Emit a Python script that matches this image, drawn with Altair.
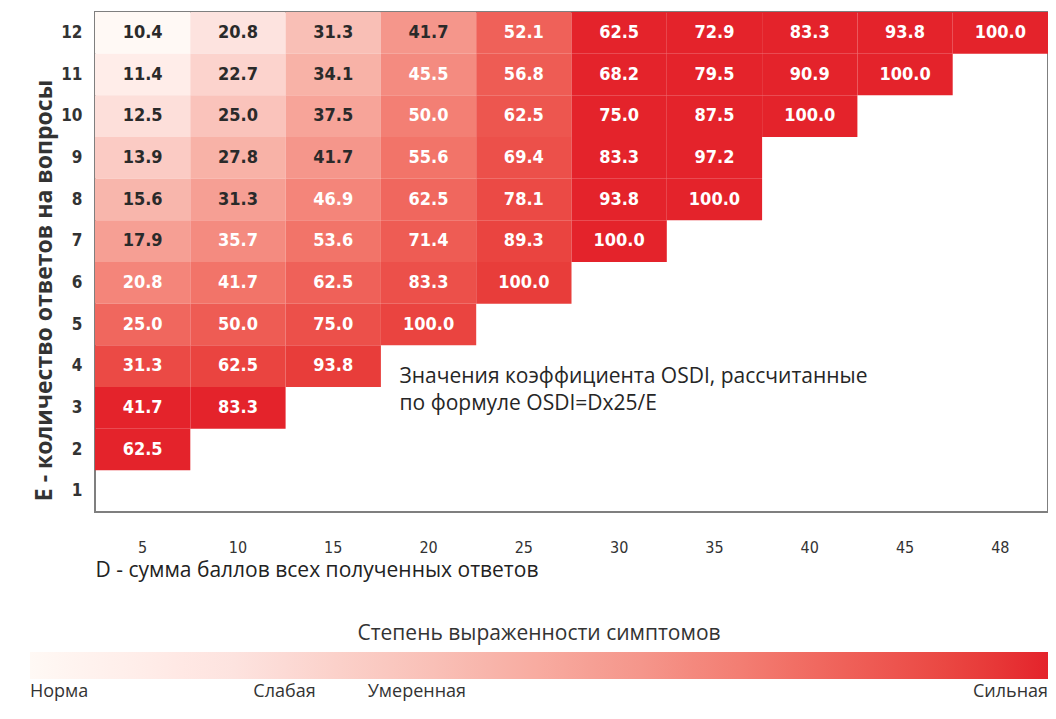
import altair as alt
import pandas as pd

# D - sum of scores (columns), E - number of answered questions (rows)
D_VALUES = [5, 10, 15, 20, 25, 30, 35, 40, 45, 48]
E_VALUES = [12, 11, 10, 9, 8, 7, 6, 5, 4, 3, 2, 1]

ROW_12 = [10.4, 20.8, 31.3, 41.7, 52.1, 62.5, 72.9, 83.3, 93.8, 100.0]
ROW_11 = [11.4, 22.7, 34.1, 45.5, 56.8, 68.2, 79.5, 90.9, 100.0]
ROW_10 = [12.5, 25.0, 37.5, 50.0, 62.5, 75.0, 87.5, 100.0]
ROW_9 = [13.9, 27.8, 41.7, 55.6, 69.4, 83.3, 97.2]
ROW_8 = [15.6, 31.3, 46.9, 62.5, 78.1, 93.8, 100.0]
ROW_7 = [17.9, 35.7, 53.6, 71.4, 89.3, 100.0]
ROW_6 = [20.8, 41.7, 62.5, 83.3, 100.0]
ROW_5 = [25.0, 50.0, 75.0, 100.0]
ROW_4 = [31.3, 62.5, 93.8]
ROW_3 = [41.7, 83.3]
ROW_2 = [62.5]
ROW_1 = []

ROWS = {12: ROW_12, 11: ROW_11, 10: ROW_10, 9: ROW_9, 8: ROW_8, 7: ROW_7,
        6: ROW_6, 5: ROW_5, 4: ROW_4, 3: ROW_3, 2: ROW_2, 1: ROW_1}

ANNOTATION = ["Значения коэффициента OSDI, рассчитанные", "по формуле OSDI=Dx25/E"]
X_TITLE = "D - сумма баллов всех полученных ответов"
Y_TITLE = "E - количество ответов на вопросы"
LEGEND_TITLE = "Степень выраженности симптомов"
LEGEND_NAMES = ["Норма", "Слабая", "Умеренная", "Сильная"]
LEGEND_VALUES = [0, 25, 38, 100]

records = []
for e, vals in ROWS.items():
    for d, v in zip(D_VALUES, vals):
        records.append({"D": d, "E": e, "OSDI": v})
df = pd.DataFrame(records)

COLOR_DOMAIN = [0, 20, 40, 60, 80, 100]
COLOR_RANGE = ["#ffffff", "#fde3df", "#f9bfb6", "#f5968b", "#ef6159", "#e4232b"]

CELL_FONT = "DejaVu Sans Condensed, Liberation Sans Narrow, Arial Narrow, sans-serif"
TEXT_FONT = "Open Sans, Noto Sans, sans-serif"

label_expr = " : ".join(
    f"datum.value == {v} ? '{n}'" for v, n in zip(LEGEND_VALUES[:-1], LEGEND_NAMES[:-1])
) + f" : '{LEGEND_NAMES[-1]}'"

x_scale = alt.Scale(domain=D_VALUES, paddingInner=0, paddingOuter=0)
y_scale = alt.Scale(domain=E_VALUES, paddingInner=0, paddingOuter=0)

x_enc = alt.X(
    "D:O",
    scale=x_scale,
    axis=alt.Axis(
        title=X_TITLE, titleAnchor="start", titleAlign="left", labelAngle=0,
        ticks=False, domain=False, labelPadding=27, labelFontSize=16,
        labelFont=CELL_FONT, labelColor="#333", titlePadding=4,
        titleFontSize=21, titleFontWeight="normal", titleFont=TEXT_FONT,
        titleColor="#222",
    ),
)
y_enc = alt.Y(
    "E:O",
    scale=y_scale,
    axis=alt.Axis(
        title=Y_TITLE, titleY=278, ticks=False, domain=False,
        labelPadding=13, labelFontSize=17, labelFontWeight="bold",
        labelFont=CELL_FONT, labelColor="#333", titlePadding=4,
        titleFontSize=23, titleFontWeight="bold", titleFont=TEXT_FONT,
        titleColor="#333",
    ),
)

base = alt.Chart(df).transform_calculate(
    shade="100 * (1 - (1 - min(1, (datum.D - 5) / 25)) * (1 - min(1, (12 - datum.E) / 9)))",
    tone="100 * (1 - (1 - min(1, (datum.D - 5) / 20)) * (1 - min(1, (12 - datum.E) / 7)))",
)

color_scale = alt.Scale(domain=COLOR_DOMAIN, range=COLOR_RANGE)

cells = base.mark_rect().encode(
    x=x_enc,
    y=y_enc,
    color=alt.Color(
        "shade:Q",
        scale=color_scale,
        legend=alt.Legend(
            type="gradient",
            orient="none", legendX=-65, legendY=611, direction="horizontal",
            gradientLength=1018, gradientThickness=27, gradientStrokeWidth=0,
            title=LEGEND_TITLE, titleAnchor="middle", titleOrient="top",
            titleFontSize=21, titleFontWeight="normal", titleFont=TEXT_FONT,
            titleColor="#333", titlePadding=8, titleLimit=900,
            values=LEGEND_VALUES, labelExpr=label_expr, labelOverlap=False,
            labelFontSize=18, labelFont=TEXT_FONT, labelColor="#333",
            labelOffset=4,
        ),
    ),
)

labels = base.mark_text(font=CELL_FONT, fontSize=18, fontWeight="bold").encode(
    x=x_enc,
    y=y_enc,
    text=alt.Text("OSDI:Q", format=".1f"),
    color=alt.condition("datum.tone >= 77", alt.value("#ffffff"), alt.value("#2a2a2a")),
)

note = alt.Chart(pd.DataFrame({"t": [ANNOTATION]})).mark_text(
    align="left", baseline="middle", dx=-29, dy=11, lineHeight=27,
    font=TEXT_FONT, fontSize=21, color="#262626",
).encode(
    x=alt.XDatum(20, type="ordinal", scale=x_scale),
    y=alt.YDatum(4, type="ordinal", scale=y_scale),
    text="t",
)

chart = alt.layer(cells, labels, note).properties(
    width=953, height=500,
    padding={"left": 22, "top": 4, "right": 0, "bottom": 0},
).configure_view(stroke="#7f7f7f", strokeWidth=2)

chart.save("out.html", embed_options={"renderer": "svg", "actions": False})
